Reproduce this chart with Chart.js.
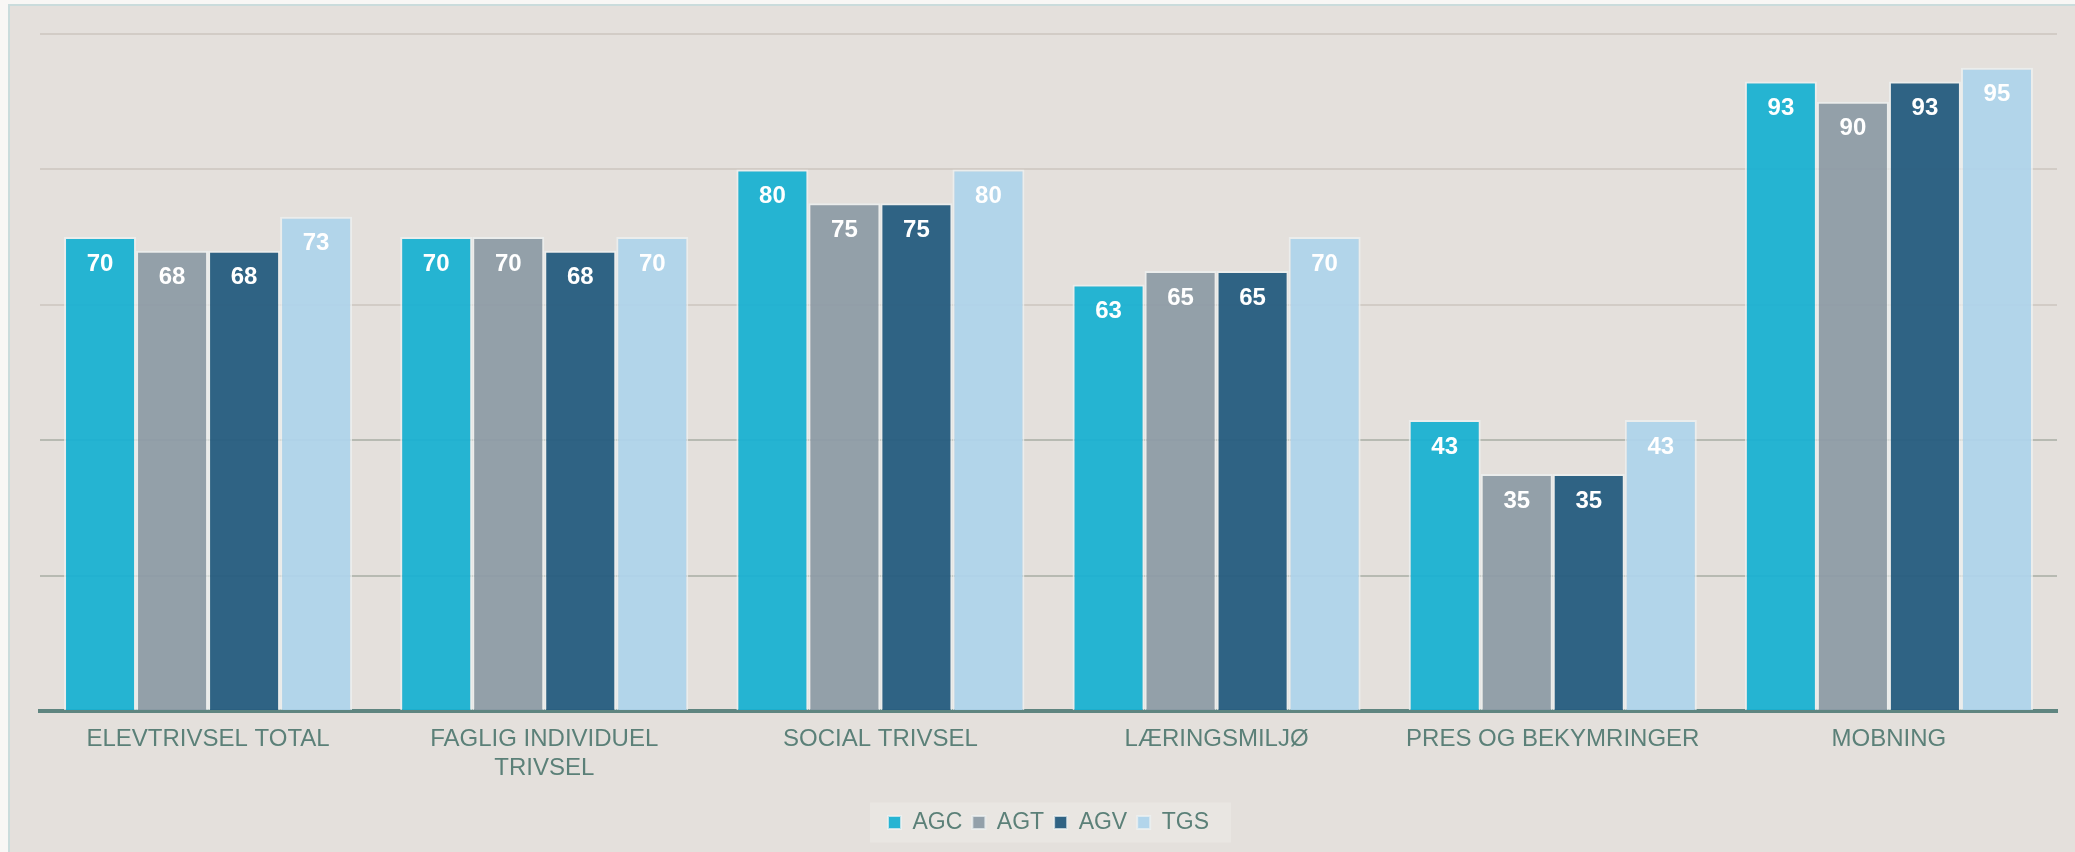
<!DOCTYPE html>
<html>
<head>
<meta charset="utf-8">
<script src="https://cdn.jsdelivr.net/npm/chart.js@4/dist/chart.umd.min.js"></script>
<style>
  html, body { margin: 0; padding: 0; background: #f8f7f5; }
  #wrap { width: 2075px; height: 852px; position: relative; }
</style>
</head>
<body>
<div id="wrap"><canvas id="grafico"></canvas></div>
<script>
const kategorier = ['ELEVTRIVSEL TOTAL', ['FAGLIG INDIVIDUEL', 'TRIVSEL'], 'SOCIAL TRIVSEL', 'LÆRINGSMILJØ', 'PRES OG BEKYMRINGER', 'MOBNING'];
const agc = [70, 70, 80, 63, 43, 93];
const agt = [68, 70, 75, 65, 35, 90];
const agv = [68, 68, 75, 65, 35, 93];
const tgs = [73, 70, 80, 70, 43, 95];

const tekstFarve = '#5b8078';

// baggrund, ramme og legend-boks
const ramme = {
  id: 'ramme',
  beforeDraw(chart) {
    const c = chart.ctx;
    c.save();
    c.fillStyle = '#f8f7f5';
    c.fillRect(0, 0, chart.width, chart.height);
    c.fillStyle = '#e4e0dc';
    c.fillRect(9, 5, chart.width - 9, chart.height - 5);
    c.strokeStyle = '#cadcdc';
    c.lineWidth = 2;
    c.beginPath();
    c.moveTo(9, chart.height);
    c.lineTo(9, 5);
    c.lineTo(chart.width, 5);
    c.stroke();
    const hb = chart.legend.legendHitBoxes;
    if (hb && hb.length) {
      const l = Math.min(...hb.map(b => b.left));
      const r = Math.max(...hb.map(b => b.left + b.width));
      const t = Math.min(...hb.map(b => b.top));
      const h = Math.max(...hb.map(b => b.height));
      c.fillStyle = '#e9e6e2';
      c.fillRect(l - 18, t + h / 2 - 20, r - l + 40, 40);
    }
    c.restore();
  }
};

// tal inde i søjlerne
const etiketter = {
  id: 'etiketter',
  afterDatasetsDraw(chart) {
    const c = chart.ctx;
    c.save();
    c.font = 'bold 24px "Liberation Sans", Arial, sans-serif';
    c.fillStyle = '#ffffff';
    c.textAlign = 'center';
    c.textBaseline = 'middle';
    chart.data.datasets.forEach((ds, i) => {
      const meta = chart.getDatasetMeta(i);
      meta.data.forEach((bar, j) => {
        c.fillText(ds.data[j], bar.x, bar.y + 27);
      });
    });
    c.restore();
  }
};

const ctx = document.getElementById('grafico');

let grafico = new Chart(ctx, {
  type: 'bar',
  data: {
    labels: kategorier,
    datasets: [
      { label: 'AGC', data: agc, backgroundColor: 'rgba(24,176,209,0.94)' },
      { label: 'AGT', data: agt, backgroundColor: 'rgba(141,155,166,0.94)' },
      { label: 'AGV', data: agv, backgroundColor: 'rgba(40,94,128,0.96)' },
      { label: 'TGS', data: tgs, backgroundColor: 'rgba(174,211,235,0.94)' }
    ].map(d => Object.assign(d, {
      borderColor: 'rgba(238,242,242,0.75)',
      borderWidth: 2,
      categoryPercentage: 0.857,
      barPercentage: 1.0
    }))
  },
  options: {
    responsive: true,
    maintainAspectRatio: false,
    animation: false,
    layout: { padding: { left: 40, right: 18, top: 34, bottom: 8 } },
    scales: {
      x: {
        grid: { display: false, drawTicks: false },
        border: { display: true, color: '#5f8580', width: 4 },
        ticks: {
          color: tekstFarve,
          font: { family: '"Liberation Sans", Arial, sans-serif', size: 24 },
          padding: 14,
          maxRotation: 0,
          autoSkip: false
        },
        afterFit: (s) => { s.height = 90; }
      },
      y: {
        min: 0,
        max: 100,
        ticks: { display: false, stepSize: 20 },
        border: { display: false },
        grid: {
          drawTicks: false,
          lineWidth: 2,
          color: (c) => c.tick.value >= 60 ? '#d2ccc6' : '#b7bab2'
        },
        afterFit: (s) => { s.width = 0; }
      }
    },
    plugins: {
      legend: {
        position: 'bottom',
        labels: {
          boxWidth: 13,
          boxHeight: 13,
          padding: 10,
          color: tekstFarve,
          font: { family: '"Liberation Sans", Arial, sans-serif', size: 23 }
        }
      },
      tooltip: { enabled: false }
    }
  },
  plugins: [ramme, etiketter]
});
</script>
</body>
</html>
